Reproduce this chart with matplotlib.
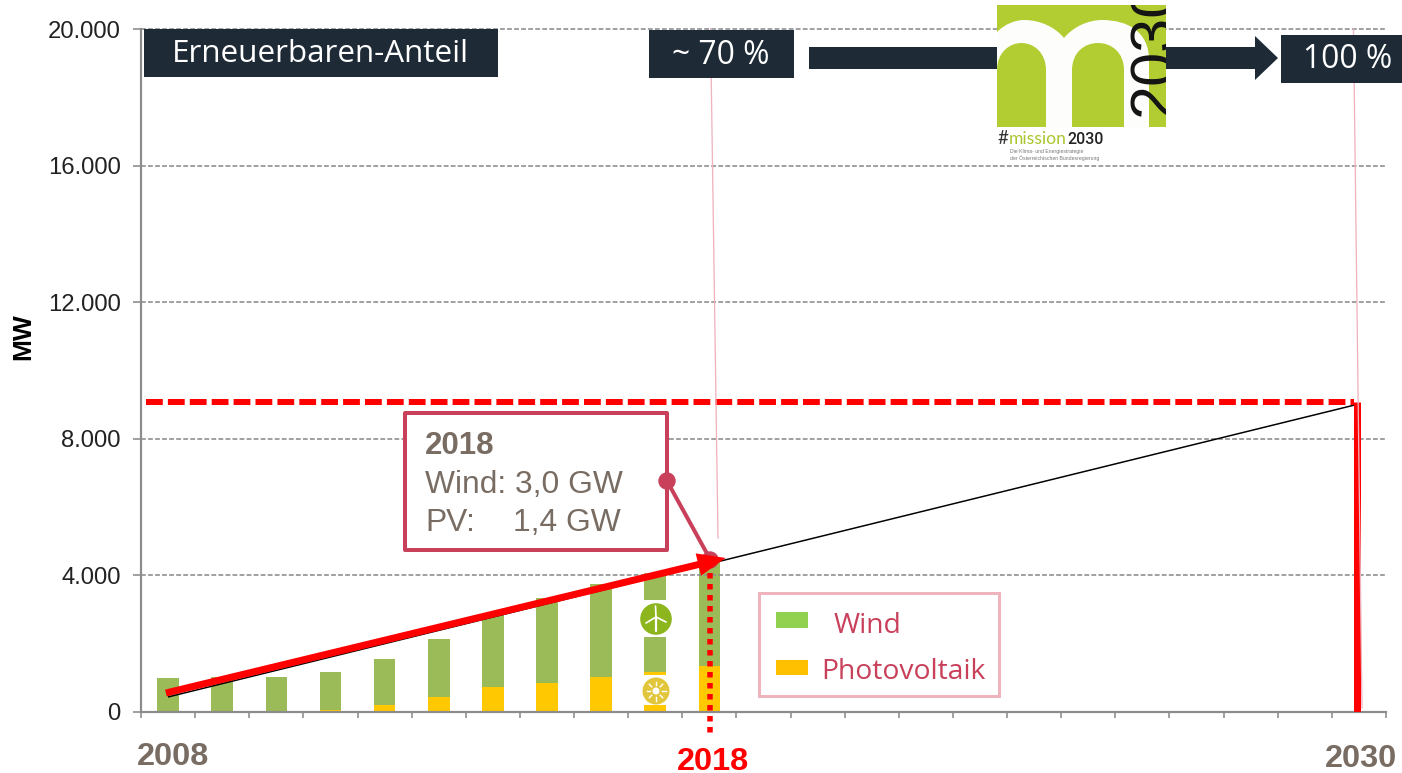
import numpy as np
import matplotlib
matplotlib.use("Agg")
import matplotlib.pyplot as plt
from matplotlib.patches import Rectangle, Circle, PathPatch, Polygon
from matplotlib.path import Path

# ---- data ----
years = [2008, 2009, 2010, 2011, 2012, 2013, 2014, 2015, 2016, 2017, 2018]
pv_mw = [0, 0, 0, 70, 205, 430, 720, 860, 1020, 1170, 1350]
wind_mw = [1005, 1024, 1024, 1090, 1335, 1697, 2130, 2486, 2716, 2900, 3050]
path_years = [2008, 2030]
path_mw = [440, 9020]
actual_years = [2008, 2018]
actual_mw = [556, 4510]
target_year = 2030
target_mw = 9075
y_ticks = [0, 4000, 8000, 12000, 16000, 20000]
y_labels = ["0", "4.000", "8.000", "12.000", "16.000", "20.000"]

# ---- styles ----
W, H = 1402, 773
NAVY = "#1E2B37"
GREY = "#8C8C8C"
BROWN = "#786C63"
CRIM = "#C8405A"
PINK = "#EFB3BE"
GREEN = "#9BBB59"
GOLD = "#FFC800"
LIME = "#B1CD32"
SANS = "Liberation Sans"
HUM = "Open Sans"
px = 72 / 100  # one pixel in points

fig = plt.figure(figsize=(W / 100, H / 100), dpi=100, facecolor="white")
L, R, T, B = 141, 1386, 29, 712
ax = fig.add_axes([L / W, 1 - B / H, (R - L) / W, (B - T) / H])
ov = fig.add_axes([0, 0, 1, 1], facecolor="none")
ov.set_xlim(0, W)
ov.set_ylim(H, 0)
ov.axis("off")

# ---- main axes ----
ax.set_xlim(2007.5, 2030.5)
ax.set_ylim(0, 20000)
ax.bar(years, pv_mw, width=0.4, color=GOLD, zorder=2)
ax.bar(years, wind_mw, width=0.4, bottom=pv_mw, color=GREEN, zorder=2)
for v in y_ticks[1:]:
    ax.axhline(v, color=GREY, lw=1.6 * px, dashes=(3.0, 1.4), zorder=3, clip_on=False)
for s in ("top", "right"):
    ax.spines[s].set_visible(False)
for s in ("left", "bottom"):
    ax.spines[s].set_color(GREY)
    ax.spines[s].set_linewidth(2.2 * px)
ax.set_yticks(y_ticks)
ax.set_yticklabels(y_labels, fontfamily=SANS, fontsize=17.2, color="#222222")
ax.tick_params(axis="y", length=8 * px, width=1.6 * px, color=GREY, pad=9)
ax.set_xticks([y - 0.5 for y in range(2008, 2032)])
ax.set_xticklabels([])
ax.tick_params(axis="x", length=6 * px, width=1.6 * px, color=GREY)

# leader of the call-out sits beneath the arrow
lead = ov.transData
ax.plot([667, 710], [481, 559], color=CRIM, lw=4 * px, transform=lead, zorder=4, clip_on=False)
ax.add_patch(Circle((710, 560), 8, color=CRIM, transform=lead, zorder=4, clip_on=False))

# trajectory lines
ax.plot(path_years, path_mw, color="black", lw=1.5 * px, zorder=4, solid_capstyle="butt")
ax.annotate("", xy=(actual_years[1] + 0.30, actual_mw[1]), xytext=(actual_years[0] - 0.04, actual_mw[0]),
            arrowprops=dict(arrowstyle="-|>,head_length=11,head_width=4.5", mutation_scale=1, lw=7 * px,
                            color="#FF0000", shrinkA=0, shrinkB=0, capstyle="butt", joinstyle="miter"), zorder=6)
ax.plot([2018.02, 2018.02], [4400, -680], color="#FF0000", lw=5.5 * px, dashes=(1, 1),
        zorder=5, clip_on=False, solid_capstyle="butt", dash_capstyle="butt")
ax.plot([2007.6, target_year - 0.09], [target_mw, target_mw], color="#FF0000", lw=6 * px,
        dashes=(2.8, 0.85), zorder=5, dash_capstyle="butt")
ax.plot([target_year - 0.03, target_year - 0.03], [target_mw, 0], color="#FF0000", lw=7 * px,
        zorder=5, solid_capstyle="butt")

# ---- pink thin lines ----
ov.plot([710.5, 718], [29, 538], color=PINK, lw=1.3 * px, zorder=1)
ov.plot([1353.5, 1362], [29, 708], color=PINK, lw=1.3 * px, zorder=1)

# ---- dark boxes ----
for x0, y0, x1, y1, s, cx, cy, fs in [
    (144, 29, 498, 77, "Erneuerbaren-Anteil", 320, 54, 22.6),
    (649, 30, 794, 78, "~ 70 %", 720.5, 56, 22.9),
    (1281, 35, 1402, 83, "100 %", 1347.5, 60, 22.9),
]:
    ov.add_patch(Rectangle((x0, y0), x1 - x0, y1 - y0, color=NAVY, lw=0, zorder=5))
    ov.text(cx, cy, s, color="white", fontfamily=HUM, fontsize=fs, ha="center", va="center", zorder=6)

# ---- big arrow ----
ov.add_patch(Rectangle((809, 47), 190, 22, color=NAVY, lw=0, zorder=3))
ov.add_patch(Polygon([(1160, 47), (1255, 47), (1255, 36), (1278, 58), (1255, 80), (1255, 69), (1160, 69)],
                     closed=True, color=NAVY, lw=0, zorder=3))

# ---- logo ----
ov.add_patch(Rectangle((997, 5), 169, 122, color=LIME, lw=0, zorder=4))
M, C, Z = Path.MOVETO, Path.CURVE4, Path.LINETO
white_m = Path(
    [(997, 32), (1005, 24), (1015, 20), (1024, 20), (1040, 20), (1055, 27), (1064, 38),
     (1073, 27), (1088, 20), (1102, 20), (1128, 20), (1149, 32), (1149, 60), (1149, 127), (997, 127), (997, 32)],
    [M, C, C, C, C, C, C, C, C, C, C, C, C, Z, Z, Z])
ov.add_patch(PathPatch(white_m, facecolor="#FDFDFB", lw=0, zorder=4.1))
for a, b in [(997, 1046), (1072, 1124)]:
    m = (a + b) / 2
    arch = Path([(a, 127), (a, 70), (a, 53), (a + 12, 43), (m, 43), (b - 12, 43), (b, 53), (b, 70), (b, 127), (a, 127)],
                [M, Z, C, C, C, C, C, C, Z, Z])
    ov.add_patch(PathPatch(arch, facecolor=LIME, lw=0, zorder=4.2))
clip_box = Rectangle((997, 5), 169, 122, transform=ov.transData)
num = ov.text(1127, 116, "2030", rotation=90, fontfamily=["Liberation Sans Narrow", "Liberation Sans"],
              fontsize=44, color="#141414", ha="left", va="bottom", zorder=4.3)
num.set_clip_path(clip_box)
num.set_clip_on(True)
ov.text(997, 139, "#", color="#333333", fontfamily="Lato", fontsize=13.5, ha="left", va="center", zorder=5)
ov.text(1009, 139, "mission", color="#A9C72F", fontfamily="Lato", fontsize=12.6, ha="left", va="center", zorder=5)
ov.text(1067, 139, "2030", color="#222222", fontfamily="Roboto", fontweight="medium", fontsize=11.4,
        ha="left", va="center", zorder=5)
ov.text(1010, 151.5, "Die Klima- und Energiestrategie", color="#777777", fontfamily=SANS, fontsize=3.7,
        ha="left", va="center")
ov.text(1010, 158.5, "der Österreichischen Bundesregierung", color="#777777", fontfamily=SANS, fontsize=3.7,
        ha="left", va="center")

# ---- call-out ----
ov.add_patch(Rectangle((405, 413), 262, 137, facecolor="white", edgecolor=CRIM, lw=4 * px, zorder=3,
                       joinstyle="round"))
ov.add_patch(Circle((667, 481), 8, color=CRIM, zorder=4))
ov.text(425, 446, "2018", fontfamily=SANS, fontweight="bold", fontsize=22.5, color=BROWN, ha="left", va="center", zorder=4)
ov.text(425, 485, "Wind: 3,0 GW", fontfamily=SANS, fontsize=22.9, color=BROWN, ha="left", va="center", zorder=4)
ov.text(425, 523, "PV:", fontfamily=SANS, fontsize=22.9, color=BROWN, ha="left", va="center", zorder=4)
ov.text(513, 523, "1,4 GW", fontfamily=SANS, fontsize=22.9, color=BROWN, ha="left", va="center", zorder=4)

# ---- legend ----
ov.add_patch(Rectangle((759, 593), 240, 103, facecolor="white", edgecolor=PINK, lw=3 * px, zorder=3))
ov.add_patch(Rectangle((776, 612), 32, 16, color="#92D050", lw=0, zorder=4))
ov.add_patch(Rectangle((776, 660), 32, 15, color="#FFC000", lw=0, zorder=4))
ov.text(834, 626, "Wind", fontfamily=HUM, fontsize=20.3, color=CRIM, ha="left", va="center", zorder=4)
ov.text(821, 672, "Photovoltaik", fontfamily=HUM, fontsize=20.3, color=CRIM, ha="left", va="center", zorder=4)

# ---- icons on the 2017 bar ----
ov.add_patch(Rectangle((642, 600), 26, 37, color="white", lw=0, zorder=2))
ov.add_patch(Rectangle((642, 675), 26, 30, color="white", lw=0, zorder=2))
ov.add_patch(Circle((656, 619), 15.8, color="#8DB61E", lw=0, zorder=3))
ov.plot([656, 656], [617, 631], color="white", lw=2.2 * px, zorder=4, solid_capstyle="round")
for dx, dy in [(-0.5, -11), (10, 5), (-10, 6)]:
    ov.plot([656, 656 + dx], [617, 617 + dy], color="white", lw=1.7 * px, zorder=4, solid_capstyle="round")
ov.add_patch(Circle((656, 691), 13.5, color="#E1C63C", lw=0, zorder=3))
ov.add_patch(Circle((656, 691), 3.5, color="white", lw=0, zorder=4))
for a in range(0, 360, 45):
    ca, sa = np.cos(np.radians(a)), np.sin(np.radians(a))
    ov.plot([656 + 6 * ca, 656 + 9.5 * ca], [691 + 6 * sa, 691 + 9.5 * sa], color="white", lw=1.4 * px, zorder=4)

# ---- axis titles and year labels ----
ov.text(23, 337, "MW", rotation=90, fontfamily=SANS, fontweight="bold", fontsize=19, color="black",
        ha="center", va="center")
for x, y, s, c in [(173, 757, "2008", BROWN), (712.5, 762, "2018", "#FF0000"), (1361.5, 759, "2030", BROWN)]:
    ov.text(x, y, s, fontfamily=SANS, fontweight="bold", fontsize=23.4, color=c, ha="center", va="center")

fig.savefig("out.png", dpi=100, facecolor="white")
